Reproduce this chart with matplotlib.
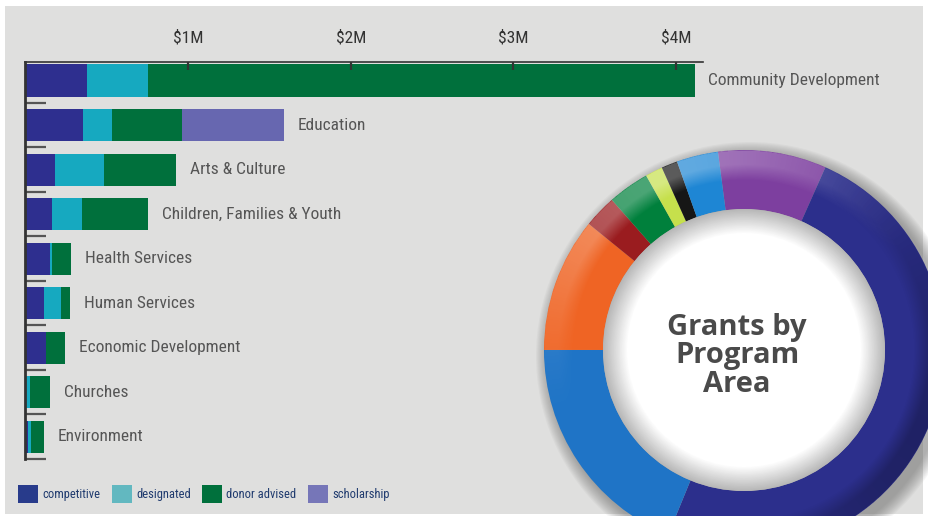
import numpy as np
import matplotlib.pyplot as plt
from matplotlib import font_manager
from matplotlib.patches import Patch, Circle, Rectangle

# program areas, grants in $M
programs = ['Community Development', 'Education', 'Arts & Culture',
            'Children, Families & Youth', 'Health Services', 'Human Services',
            'Economic Development', 'Churches', 'Environment']
competitive = [0.378, 0.352, 0.180, 0.162, 0.150, 0.112, 0.123, 0.000, 0.014]
designated = [0.375, 0.178, 0.300, 0.185, 0.012, 0.105, 0.000, 0.026, 0.018]
donor_advised = [3.360, 0.430, 0.443, 0.405, 0.117, 0.055, 0.119, 0.123, 0.080]
scholarship = [0.000, 0.627, 0.000, 0.000, 0.000, 0.000, 0.000, 0.000, 0.000]

series_names = ['competitive', 'designated', 'donor advised', 'scholarship']
bar_colors = ['#2e2f8f', '#16a9c0', '#00703c', '#6767b0']
legend_colors = ['#283b8b', '#62b8c0', '#00703c', '#7676b8']

xticks = [1, 2, 3, 4]
xtick_labels = ['$1M', '$2M', '$3M', '$4M']

# donut, clockwise from the top (share of total, %)
donut_areas = ['Children, Families & Youth', 'Community Development', 'Education',
               'Arts & Culture', 'Economic Development', 'Human Services',
               'Environment', 'Churches', 'Health Services']
donut_share = [8.75, 49.5, 18.8, 10.85, 2.65, 3.35, 1.4, 1.3, 3.35]
donut_colors = ['#7d3f9f', '#2c2f8c', '#1f74c6', '#ef6424', '#9a1c1f',
                '#00803c', '#c6e04c', '#161616', '#1e86d4']

# pick a narrow font if there is one
installed = {f.name for f in font_manager.fontManager.ttflist}
narrow = None
for cand in ['Liberation Sans Narrow', 'Roboto Condensed', 'Open Sans Condensed',
             'DejaVu Sans Condensed', 'Noto Sans Condensed']:
    if cand in installed:
        narrow = cand
        break
if narrow is None:
    narrow = 'DejaVu Sans'
    plt.rcParams['font.stretch'] = 'condensed'
plt.rcParams['font.family'] = [narrow, 'DejaVu Sans']

W, H = 929, 516
fig = plt.figure(figsize=(W / 100, H / 100), dpi=100)
fig.patch.set_facecolor('white')
fig.patches.append(Rectangle((5 / W, 2 / H), 918 / W, 508 / H, transform=fig.transFigure,
                             facecolor='#dfdfde', edgecolor='none', zorder=-10))

# ---- bar chart ----
ax = fig.add_axes([25.5 / W, 1 - 459 / H, 677.5 / W, 397 / H])
ax.set_facecolor('none')
y = np.arange(len(programs))
left = np.zeros(len(programs))
for vals, col in zip([competitive, designated, donor_advised, scholarship], bar_colors):
    ax.barh(y, vals, left=left, height=0.72, color=col, linewidth=0)
    left += np.array(vals)

for i, name in enumerate(programs):
    ax.annotate(name, (left[i], i), xytext=(10, 0), textcoords='offset points',
                va='center', ha='left', fontsize=12.5, color='#555555')

ax.set_xlim(0, 4.165)
ax.set_ylim(8.5, -0.415)
ax.xaxis.tick_top()
ax.set_xticks(xticks)
ax.set_xticklabels(xtick_labels, fontsize=12.5, color='#333333')
ax.tick_params(axis='x', direction='in', length=6, width=1.6, color='#333333', pad=12)
ax.set_yticks(np.arange(0.5, len(programs), 1.0))
ax.set_yticklabels([])
ax.tick_params(axis='y', direction='in', length=15, width=1.6, color='#555555')
for s in ['right', 'bottom']:
    ax.spines[s].set_visible(False)
ax.spines['top'].set_color('#333333')
ax.spines['top'].set_linewidth(1.2)
ax.spines['left'].set_color('#333333')
ax.spines['left'].set_linewidth(2)

handles = [Patch(facecolor=c, edgecolor='none') for c in legend_colors]
fig.legend(handles, series_names, loc='lower left', bbox_to_anchor=(18 / W, 1 - 503 / H),
           ncol=4, frameon=False, fontsize=9, handlelength=1.6, handleheight=1.9,
           handletextpad=0.35, columnspacing=0.9, borderpad=0, borderaxespad=0,
           labelcolor='#1f3a6e')

# ---- donut ----
R = 200
cx, cy = 744, 350
dax = fig.add_axes([(cx - R) / W, (H - cy - R) / H, 2 * R / W, 2 * R / H])

# soft shadow around the ring
n = 12
for k in range(n):
    dax.add_patch(Circle((0.03, -0.03), 1.07 - 0.07 * k / n, facecolor='#606060',
                         alpha=0.05, edgecolor='none', zorder=0, clip_on=False))

r_in = 141 / R
wedges, _ = dax.pie(donut_share, colors=donut_colors, startangle=97.5, counterclock=False,
                    radius=1, wedgeprops=dict(width=1 - r_in, linewidth=0))
for w in wedges:
    w.set_clip_on(False)

# shading overlay: light outer band at the top, darker rim towards lower right
N = 600
g = np.linspace(-1, 1, N)
X, Y = np.meshgrid(g, g)
rr = np.hypot(X, Y)
th = np.arctan2(Y, X)
band = np.clip((rr - 0.85) / 0.08, 0, 1) * (rr <= 1.0)
light = np.clip(np.cos(th - np.radians(115)), 0, 1) ** 2
dark = np.clip(np.cos(th + np.radians(25)), 0, 1) ** 1.5
for rgb, a in [((1, 1, 1), 0.3 * light * band), ((0, 0, 0), 0.28 * dark * band)]:
    img = np.zeros((N, N, 4))
    img[..., :3] = rgb
    img[..., 3] = a
    dax.imshow(img, extent=(-1, 1, -1, 1), origin='lower', interpolation='bilinear',
               zorder=5)

dax.set_xlim(-1, 1)
dax.set_ylim(-1, 1)
dax.set_aspect('equal')
dax.axis('off')

# inner white disc with inset shadow
m = 20
for k in range(m + 1):
    t = k / m
    gv = 0.72 + 0.28 * t
    dax.add_patch(Circle((0, 0), r_in * (1 - 0.17 * t), facecolor=(gv, gv, gv),
                         edgecolor='none', zorder=6))

dax.text(-0.035, -0.03, 'Grants by\nProgram\nArea', ha='center', va='center',
         fontsize=21, fontweight='bold', family=['Open Sans', 'DejaVu Sans'],
         color='#4a4a4a', linespacing=0.98, zorder=7)

fig.savefig('out.png', dpi=100)
